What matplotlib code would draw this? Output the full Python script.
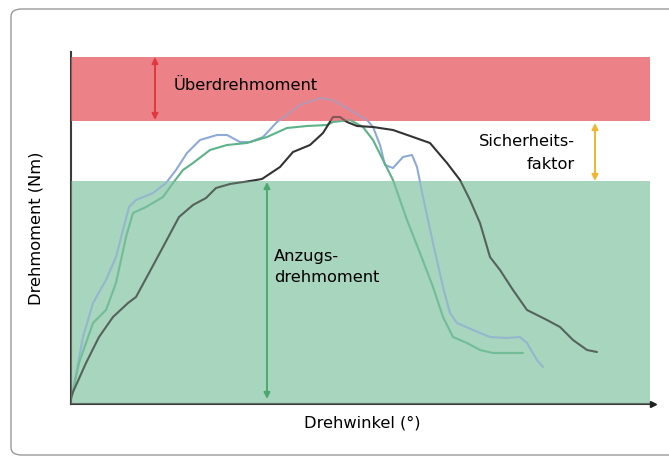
import matplotlib
matplotlib.use('Agg')
from matplotlib import pyplot as plt
from matplotlib.patches import FancyBboxPatch

# curve data (angle, torque), arbitrary units
black_x = [0, 2, 15, 28, 42, 57, 65, 78, 92, 108, 122, 135, 145, 159, 179, 191, 209, 222, 239,
           252, 262, 269, 276, 286, 302, 322, 342, 359, 376, 389, 399, 409, 419, 429, 442, 456,
           476, 489, 502, 516, 526]
black_y = [6, 12, 41, 67, 87, 101, 107, 131, 157, 187, 199, 206, 216, 220, 223, 225, 237, 252,
           259, 271, 287, 287, 282, 278, 277, 274, 267, 261, 241, 224, 204, 181, 147, 134, 114,
           94, 84, 77, 64, 54, 52]

blue_x = [0, 2, 12, 22, 35, 45, 52, 58, 65, 82, 95, 105, 116, 129, 146, 156, 169, 179, 192,
          206, 229, 249, 262, 279, 296, 302, 309, 314, 322, 332, 341, 346, 352, 362, 372, 379,
          386, 402, 419, 436, 449, 456, 466, 472]
blue_y = [8, 14, 67, 101, 124, 147, 174, 197, 204, 211, 221, 234, 251, 264, 269, 269, 262, 262,
          267, 282, 299, 306, 304, 294, 284, 277, 259, 239, 236, 247, 249, 237, 207, 161, 117,
          91, 81, 74, 67, 66, 67, 61, 44, 37]

green_x = [0, 8, 22, 35, 45, 55, 62, 75, 92, 102, 112, 122, 139, 156, 176, 196, 216, 236, 256,
           262, 279, 292, 302, 312, 322, 336, 349, 362, 372, 382, 396, 409, 422, 442, 452]
green_y = [4, 41, 81, 94, 121, 167, 191, 197, 207, 221, 234, 241, 254, 259, 261, 267, 276, 278,
           279, 282, 284, 277, 264, 244, 224, 184, 151, 117, 87, 67, 61, 54, 51, 51, 51]

# torque bands
green_top = 223
red_bottom = 283
red_top = 347
band_right = 579

fig = plt.figure(figsize=(6.69, 4.57), dpi=100)

# rounded frame around the chart, runs off the right edge
frame = FancyBboxPatch((11 / 669, 2 / 457), 700 / 669, 446 / 457,
                       boxstyle='round,pad=0,rounding_size=0.016',
                       transform=fig.transFigure, facecolor='none',
                       edgecolor='#9a9a9a', linewidth=1.0)
fig.patches.append(frame)

ax = fig.add_axes([71 / 669, 53 / 457, 582 / 669, 352 / 457])
ax.set_xlim(0, 582)
ax.set_ylim(0, 352)

band_green = '#a7d5bd'
band_red = '#ec8187'
ax.fill_between([0, band_right], 0, green_top, color=band_green, lw=0, zorder=0)
ax.fill_between([0, band_right], red_bottom, red_top, color=band_red, lw=0, zorder=0)

line_kw = dict(lw=1.5, solid_joinstyle='round', solid_capstyle='round', zorder=2)
ax.plot(blue_x, blue_y, color='#8eaad8', **line_kw)
ax.plot(green_x, green_y, color='#5cb388', **line_kw)
ax.plot(black_x, black_y, color='#333333', **line_kw)

# tint the curves where they pass through the coloured bands
ax.fill_between([0, band_right], 0, green_top, color=band_green, alpha=0.3, lw=0, zorder=3)
ax.fill_between([0, band_right], red_bottom, red_top, color=band_red, alpha=0.45, lw=0, zorder=3)

# double arrows
arrow = dict(arrowstyle='<|-|>', mutation_scale=9, shrinkA=0, shrinkB=0, lw=1.4)
ax.annotate('', xy=(84, red_top), xytext=(84, red_bottom + 1),
            arrowprops=dict(arrow, color='#e0393f'), zorder=4)
ax.annotate('', xy=(524, red_bottom - 2), xytext=(524, green_top),
            arrowprops=dict(arrow, color='#f2b431'), zorder=4)
ax.annotate('', xy=(196, green_top - 1), xytext=(196, 5),
            arrowprops=dict(arrow, color='#4ca870'), zorder=4)

ax.text(103, 319, 'Überdrehmoment', fontsize=11.7, ha='left', va='center', zorder=5)
ax.text(504, 251, 'Sicherheits-\nfaktor', fontsize=11.7, ha='right', va='center',
        linespacing=1.65, zorder=5)
ax.text(203, 137, 'Anzugs-\ndrehmoment', fontsize=11.7, ha='left', va='center',
        linespacing=1.55, zorder=5)

ax.set_xlabel('Drehwinkel (°)', fontsize=11.7, labelpad=8)
ax.set_ylabel('Drehmoment (Nm)', fontsize=11.7, labelpad=20)

for side in ['top', 'right']:
    ax.spines[side].set_visible(False)
for side in ['left', 'bottom']:
    ax.spines[side].set_color('#3c3c3c')
    ax.spines[side].set_linewidth(1.5)
ax.set_xticks([])
ax.set_yticks([])
ax.plot([1], [0], marker='>', color='#222222', markersize=5,
        transform=ax.get_yaxis_transform(), clip_on=False, zorder=6)

fig.savefig('out.png', dpi=100)
